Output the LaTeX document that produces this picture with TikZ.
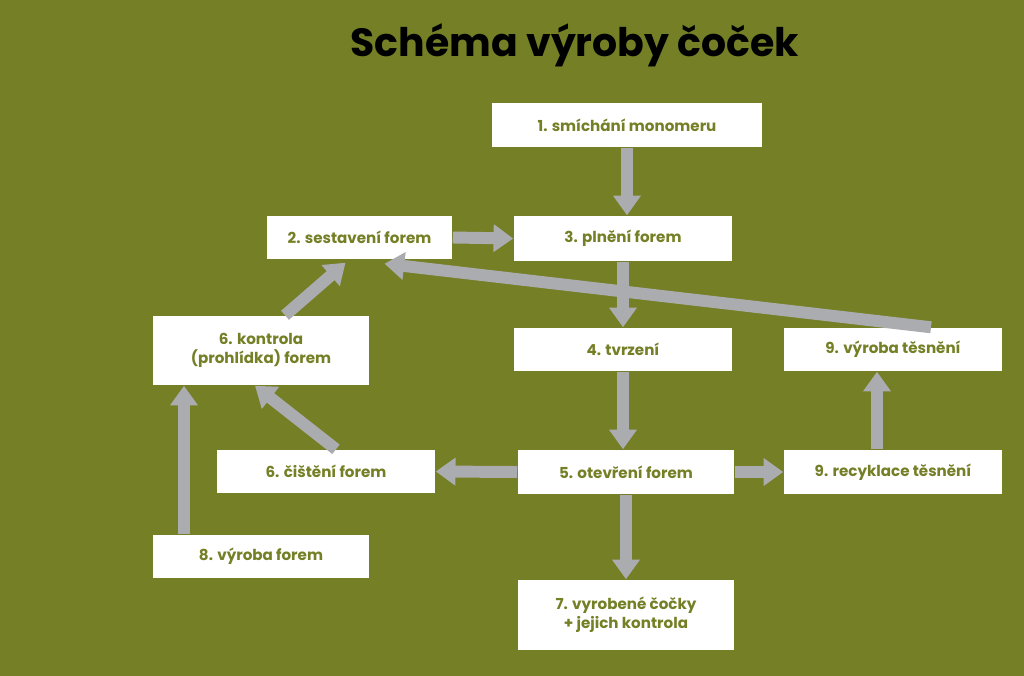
\documentclass[tikz,border=0pt]{standalone}
\usepackage{fontspec}
\setmainfont{Poppins}
\usetikzlibrary{arrows.meta,calc}
\definecolor{olive}{HTML}{757F25}
\definecolor{arrowgray}{HTML}{ABACB0}
\tikzset{
	stepbox/.style={fill=white, text=olive, font=\fontsize{4.3}{5.4}\selectfont\bfseries, align=center, inner sep=0pt},
	flow/.style={draw=arrowgray, line width=3.4pt, -{Triangle[width=7.6pt,length=5.6pt]}}
}
\begin{document}
\begin{tikzpicture}[x=0.01cm,y=-0.01cm]
	\fill[olive] (0,0) rectangle (1024,676);
	\node[font=\fontsize{11.2}{13}\selectfont\bfseries] (title) at (575,45) {Schéma výroby čoček};

	% boxes
	\node[stepbox, minimum width=2.70cm, minimum height=0.44cm] (mix) at (627,125) {1. smíchání monomeru};
	\node[stepbox, minimum width=1.85cm, minimum height=0.43cm] (assem) at (359.5,237.5) {2. sestavení forem};
	\node[stepbox, minimum width=2.18cm, minimum height=0.45cm] (fill) at (623,238.5) {3. plnění forem};
	\node[stepbox, minimum width=2.16cm, minimum height=0.69cm] (check) at (261,350.5) {6. kontrola\\(prohlídka) forem};
	\node[stepbox, minimum width=2.18cm, minimum height=0.43cm] (cure) at (623,349.5) {4. tvrzení};
	\node[stepbox, minimum width=2.18cm, minimum height=0.43cm] (seal) at (893,349.5) {9. výroba těsnění};
	\node[stepbox, minimum width=2.18cm, minimum height=0.43cm] (clean) at (326,471.5) {6. čištění forem};
	\node[stepbox, minimum width=2.16cm, minimum height=0.44cm] (open) at (626,472) {5. otevření forem};
	\node[stepbox, minimum width=2.18cm, minimum height=0.44cm] (recyc) at (893,472) {9. recyklace těsnění};
	\node[stepbox, minimum width=2.16cm, minimum height=0.43cm] (make) at (261,556.5) {8. výroba forem};
	\node[stepbox, minimum width=2.16cm, minimum height=0.70cm] (lens) at (626,615) {7. vyrobené čočky\\+ jejich kontrola};

	% connectors
	\draw[flow] (mix.south) -- (mix.south |- fill.north);
	\draw[flow] (assem.east) -- (fill.west);
	\draw[flow] (fill.south) -- (fill.south |- cure.north);
	\draw[flow] (cure.south) -- (cure.south |- open.north);
	\draw[flow] (open.west) -- (clean.east);
	\draw[flow] (open.east) -- (recyc.west);
	\draw[flow] (open.south) -- (lens.north);
	\draw[flow] ($(recyc.north)+(-16,0)$) -- ($(seal.south)+(-16,0)$);
	\draw[flow] ($(seal.north)+(38,0)$) -- ($(assem.south)+(25,4)$);
	\draw[flow] ($(check.north)+(24,0)$) -- ($(assem.south)+(-14,3)$);
	\draw[flow] ($(clean.north)+(10,0)$) -- ($(check.south)+(-6,0)$);
	\draw[flow] ($(make.north)+(-77,0)$) -- ($(check.south)+(-77,0)$);
\end{tikzpicture}
\end{document}
